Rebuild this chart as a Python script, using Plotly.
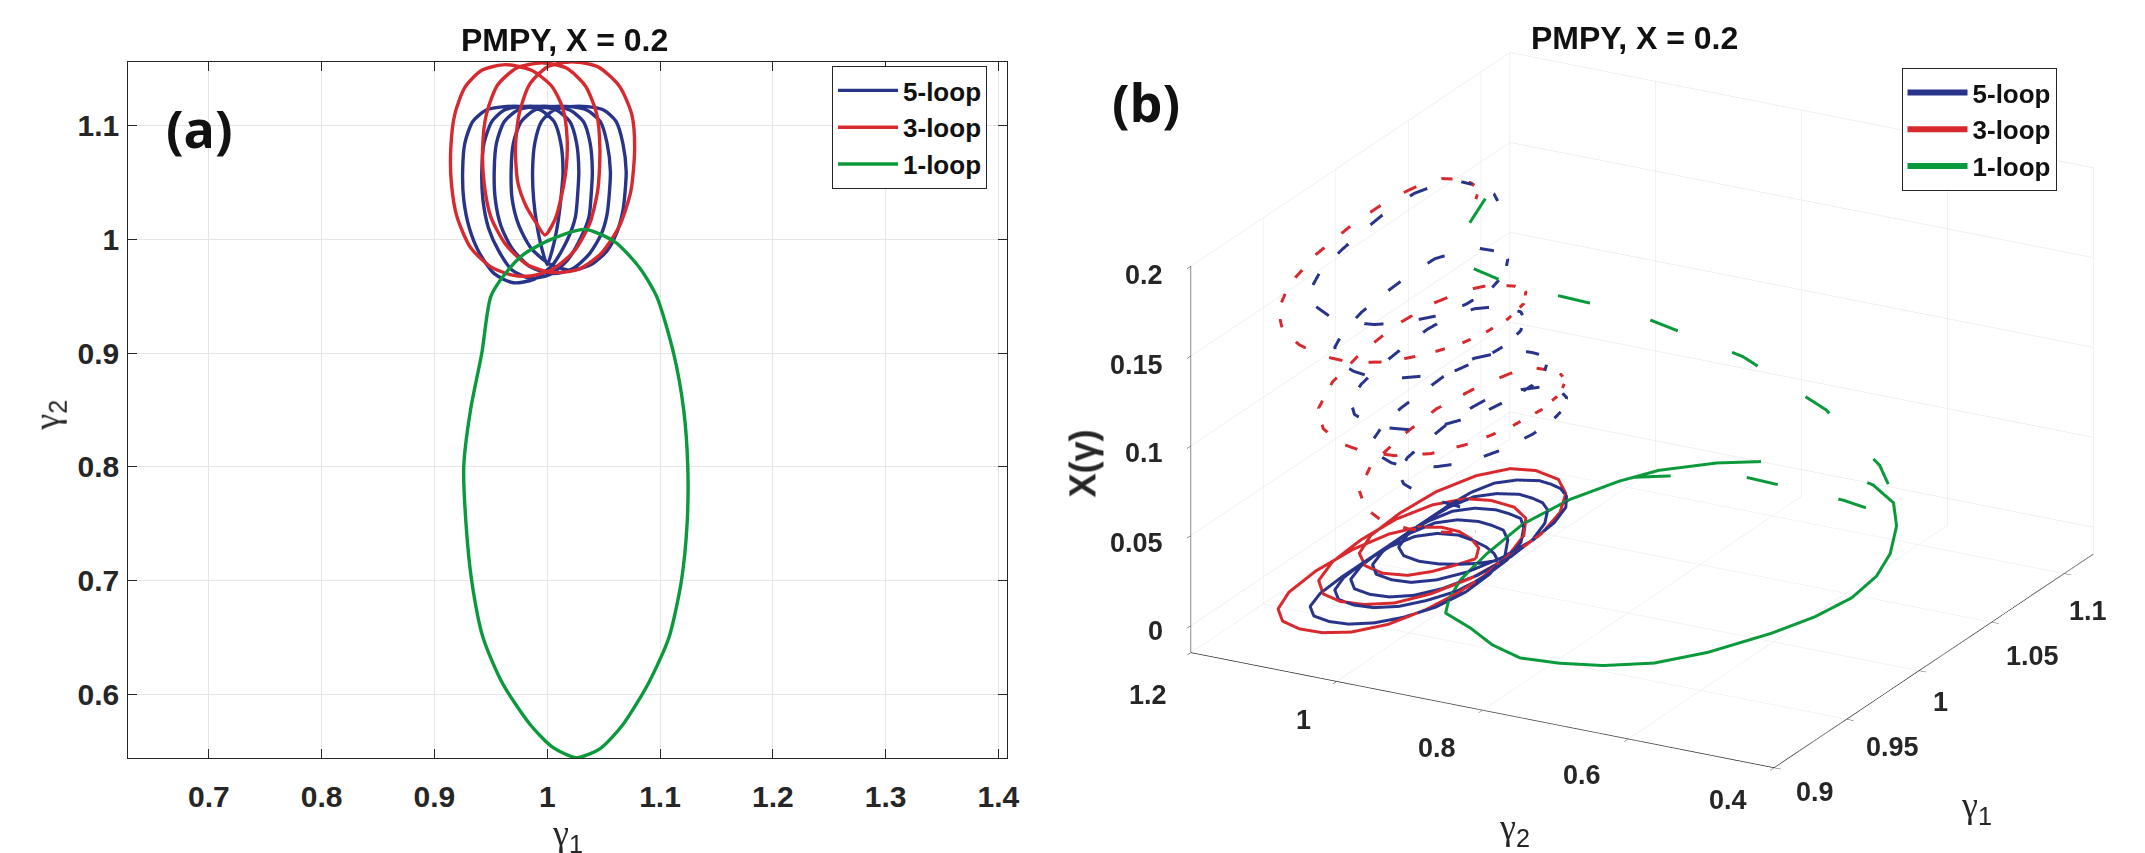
import plotly.graph_objects as go

# ---------------- data ----------------
# orbits in the (gamma1, gamma2) plane; X = X(gamma) along the orbit (panel b, dashed)

# 5-loop (blue), starts at the V near (1.0, 0.978)
loop5_g1 = [1.000, 1.005, 1.009, 1.012,
            1.014, 1.012, 1.006, 0.994, 0.980, 0.962, 0.946, 0.934, 0.927, 0.925,
            0.926, 0.931, 0.940, 0.953, 0.970, 0.988, 1.005, 1.018, 1.025, 1.027,
            1.028, 1.026, 1.020, 1.008, 0.994, 0.976, 0.962, 0.951, 0.944, 0.942,
            0.943, 0.948, 0.957, 0.969, 0.985, 1.002, 1.018, 1.030, 1.037, 1.039,
            1.040, 1.038, 1.032, 1.020, 1.006, 0.988, 0.974, 0.962, 0.955, 0.953,
            0.954, 0.959, 0.969, 0.985, 1.005, 1.022, 1.037, 1.048, 1.053, 1.055,
            1.056, 1.053, 1.047, 1.035, 1.021, 1.003, 0.989, 0.977, 0.970, 0.968,
            0.969, 0.975, 0.986, 1.003, 1.022, 1.039, 1.053, 1.062, 1.067, 1.069,
            1.070, 1.067, 1.061, 1.050, 1.036, 1.020, 1.006, 0.995, 0.989, 0.987,
            0.988, 0.991, 0.995, 1.000]
loop5_g2 = [0.978, 0.993, 1.012, 1.035,
            1.060, 1.085, 1.104, 1.114, 1.117, 1.117, 1.114, 1.104, 1.085, 1.060,
            1.035, 1.010, 0.988, 0.970, 0.962, 0.965, 0.978, 1.000, 1.020, 1.040,
            1.060, 1.085, 1.104, 1.114, 1.117, 1.117, 1.114, 1.104, 1.085, 1.060,
            1.035, 1.010, 0.990, 0.973, 0.966, 0.969, 0.982, 1.002, 1.020, 1.040,
            1.060, 1.085, 1.104, 1.114, 1.117, 1.117, 1.114, 1.104, 1.085, 1.060,
            1.035, 1.012, 0.992, 0.976, 0.970, 0.974, 0.987, 1.005, 1.022, 1.040,
            1.060, 1.085, 1.104, 1.114, 1.117, 1.117, 1.114, 1.104, 1.085, 1.060,
            1.035, 1.012, 0.992, 0.978, 0.973, 0.978, 0.990, 1.007, 1.025, 1.042,
            1.060, 1.085, 1.104, 1.114, 1.117, 1.117, 1.114, 1.104, 1.085, 1.060,
            1.035, 1.012, 0.993, 0.978]
loop5_x = [0.200, 0.200, 0.199, 0.198,
           0.197, 0.194, 0.191, 0.188, 0.185, 0.182, 0.179, 0.176, 0.173, 0.170,
           0.168, 0.166, 0.164, 0.162, 0.160, 0.158, 0.157, 0.156, 0.154, 0.153,
           0.152, 0.149, 0.147, 0.144, 0.142, 0.140, 0.137, 0.135, 0.132, 0.130,
           0.128, 0.127, 0.125, 0.123, 0.122, 0.120, 0.118, 0.117, 0.115, 0.114,
           0.113, 0.111, 0.109, 0.107, 0.105, 0.103, 0.101, 0.099, 0.097, 0.095,
           0.094, 0.092, 0.091, 0.089, 0.088, 0.086, 0.085, 0.083, 0.082, 0.081,
           0.080, 0.078, 0.077, 0.075, 0.073, 0.072, 0.070, 0.069, 0.067, 0.065,
           0.064, 0.063, 0.061, 0.060, 0.059, 0.058, 0.056, 0.055, 0.054, 0.053,
           0.052, 0.050, 0.049, 0.047, 0.046, 0.044, 0.043, 0.041, 0.040, 0.038,
           0.035, 0.032, 0.030, 0.028]

# 3-loop (red), starts at the V near (0.998, 1.004)
loop3_g1 = [0.998, 1.007, 1.013, 1.017,
            1.0176, 1.014, 1.004, 0.986, 0.963, 0.942, 0.927, 0.918, 0.9145, 0.915,
            0.920, 0.932, 0.950, 0.968, 0.985, 1.005, 1.024, 1.038, 1.045,
            1.0467, 1.044, 1.034, 1.017, 0.995, 0.973, 0.956, 0.946, 0.9427, 0.944,
            0.950, 0.963, 0.982, 1.005, 1.028, 1.048, 1.064, 1.074,
            1.0775, 1.075, 1.064, 1.045, 1.022, 1.000, 0.984, 0.975, 0.9718, 0.974,
            0.981, 0.990, 0.998]
loop3_g2 = [1.004, 1.018, 1.040, 1.065,
            1.090, 1.115, 1.135, 1.149, 1.154, 1.149, 1.134, 1.110, 1.080, 1.050,
            1.020, 0.993, 0.976, 0.969, 0.968, 0.974, 0.990, 1.015, 1.045,
            1.080, 1.110, 1.135, 1.151, 1.1555, 1.151, 1.136, 1.110, 1.080, 1.050,
            1.020, 0.996, 0.978, 0.971, 0.974, 0.988, 1.012, 1.042,
            1.080, 1.110, 1.135, 1.152, 1.1565, 1.152, 1.136, 1.110, 1.080, 1.050,
            1.030, 1.015, 1.004]
loop3_x = [0.200, 0.199, 0.198, 0.196,
           0.194, 0.190, 0.186, 0.181, 0.176, 0.171, 0.166, 0.162, 0.158, 0.154,
           0.150, 0.146, 0.142, 0.138, 0.135, 0.132, 0.129, 0.126, 0.123,
           0.120, 0.116, 0.112, 0.108, 0.104, 0.100, 0.096, 0.092, 0.088, 0.085,
           0.082, 0.078, 0.075, 0.072, 0.069, 0.066, 0.063, 0.060,
           0.057, 0.053, 0.049, 0.046, 0.042, 0.039, 0.035, 0.032, 0.029, 0.026,
           0.022, 0.018, 0.015]

# 1-loop (green), closed orbit
loop1_g1 = [1.033, 1.003, 0.979, 0.962, 0.950, 0.942, 0.932, 0.926, 0.928, 0.933,
            0.943, 0.960, 0.985, 1.005, 1.026, 1.047, 1.067, 1.090, 1.108, 1.119,
            1.124, 1.1246, 1.121, 1.112, 1.097, 1.082, 1.060, 1.033]
loop1_g2 = [1.009, 1.000, 0.987, 0.969, 0.950, 0.900, 0.850, 0.800, 0.750, 0.700,
            0.650, 0.610, 0.573, 0.553, 0.544, 0.552, 0.573, 0.610, 0.650, 0.700,
            0.750, 0.800, 0.850, 0.900, 0.950, 0.975, 0.998, 1.009]
# 1-loop path with X(gamma) (dashed in panel b)
loop1_dash_g1 = [1.000, 0.971, 0.972, 0.990, 1.032, 1.072, 1.100, 1.107, 1.094,
                 1.089, 1.095, 1.098, 1.101, 1.095, 1.086, 1.056]
loop1_dash_g2 = [0.995, 0.980, 0.963, 0.940, 0.855, 0.785, 0.727, 0.667, 0.615,
                 0.625, 0.692, 0.760, 0.843, 0.905, 0.963, 1.000]
loop1_dash_x = [0.200, 0.190, 0.180, 0.162, 0.130, 0.090, 0.050, 0.020, 0.008,
                0.006, 0.005, 0.004, 0.003, 0.002, 0.001, 0.000]

names = ["5-loop", "3-loop", "1-loop"]
colors = ["#28348a", "#d8292f", "#0a9a3b"]

xticks_a = [0.7, 0.8, 0.9, 1.0, 1.1, 1.2, 1.3, 1.4]
yticks_a = [0.6, 0.7, 0.8, 0.9, 1.0, 1.1]
g1_ticks_b = [0.9, 0.95, 1.0, 1.05, 1.1]
g2_ticks_b = [0.4, 0.6, 0.8, 1.0, 1.2]
x_ticks_b = [0, 0.05, 0.1, 0.15, 0.2]

W, H = 2145, 853
AX = "#262626"
TICKFONT = dict(family="Liberation Sans", size=30, color=AX, weight="bold")

fig = go.Figure()

g1_all = [loop5_g1, loop3_g1, loop1_g1]
g2_all = [loop5_g2, loop3_g2, loop1_g2]

# panel (a)
for name, col, g1, g2 in zip(names, colors, g1_all, g2_all):
    fig.add_trace(go.Scatter(
        x=g1, y=g2, mode="lines", name=name, legend="legend",
        line=dict(color=col, width=3.4, shape="spline", smoothing=0.7),
        hoverinfo="skip"))

# panel (b): orbit on the floor (solid) and with X(gamma) (dashed)
for name, col, g1, g2 in zip(names, colors, g1_all, g2_all):
    fig.add_trace(go.Scatter3d(
        x=g1, y=g2, z=[0] * len(g1), mode="lines", name=name,
        legend="legend2", scene="scene",
        line=dict(color=col, width=6), hoverinfo="skip"))

dash_sets = [(loop5_g1, loop5_g2, loop5_x, "dash"),
             (loop3_g1, loop3_g2, loop3_x, "dash"),
             (loop1_dash_g1, loop1_dash_g2, loop1_dash_x, "longdash")]
for col, (g1, g2, xv, dsh) in zip(colors, dash_sets):
    fig.add_trace(go.Scatter3d(
        x=g1, y=g2, z=xv, mode="lines", showlegend=False, scene="scene",
        line=dict(color=col, width=6, dash=dsh), hoverinfo="skip"))


def fmt(v):
    return ("%g" % v)


axis3d = dict(showbackground=False, gridcolor="#e2e2e2", gridwidth=1,
              showline=True, linecolor=AX, linewidth=1.5,
              ticks="outside", tickcolor=AX, ticklen=8,
              zeroline=False, showspikes=False, showticklabels=False,
              title=dict(text=""))

legend_style = dict(font=dict(family="Liberation Sans", size=26, color="#111",
                              weight="bold"),
                    bgcolor="white", bordercolor=AX, borderwidth=1,
                    itemwidth=60, tracegroupgap=0, yanchor="top",
                    xanchor="right")


def gam(i):
    return ("<span style='font-family:Liberation Serif'>γ</span>"
            "<sub>%d</sub>" % i)


fig.update_layout(
    width=W, height=H,
    margin=dict(l=0, r=0, t=0, b=0),
    paper_bgcolor="white", plot_bgcolor="white",
    xaxis=dict(domain=[121 / W, 1005 / W], range=[0.6286, 1.4075],
               tickvals=xticks_a, ticktext=[fmt(v) for v in xticks_a],
               ticks="inside", ticklen=9, tickcolor=AX,
               showline=True, linecolor=AX, linewidth=1, mirror="ticks",
               showgrid=True, gridcolor="#e6e6e6", zeroline=False,
               tickfont=TICKFONT, ticklabelstandoff=12),
    yaxis=dict(domain=[1 - 750 / H, 1 - 54 / H], range=[0.5437, 1.1563],
               tickvals=yticks_a, ticktext=[fmt(v) for v in yticks_a],
               ticks="inside", ticklen=9, tickcolor=AX,
               showline=True, linecolor=AX, linewidth=1, mirror="ticks",
               showgrid=True, gridcolor="#e6e6e6", zeroline=False,
               tickfont=TICKFONT, ticklabelstandoff=2),
    scene=dict(
        domain=dict(x=[1144 / W, 2144 / W], y=[1 - 824 / H, 1 - 1 / H]),
        xaxis=dict(axis3d, range=[0.9, 1.12], tickvals=g1_ticks_b),
        yaxis=dict(axis3d, range=[0.4, 1.2], tickvals=g2_ticks_b),
        zaxis=dict(axis3d, range=[-0.015, 0.2], tickvals=x_ticks_b),
        aspectmode="manual", aspectratio=dict(x=1.625, y=1.613, z=1.008),
        camera=dict(eye=dict(x=-1.646, y=-0.894, z=0.704),
                    up=dict(x=0, y=0, z=1), center=dict(x=0, y=0, z=-0.027),
                    projection=dict(type="orthographic")),
    ),
    legend=dict(legend_style, x=985 / W, y=1 - 58 / H),
    legend2=dict(legend_style, x=2061 / W, y=1 - 60 / H),
    showlegend=True,
)

title_font = dict(family="Liberation Sans", size=32, color="#111", weight="bold")
label_font = dict(family="Liberation Sans", size=36, color=AX)
panel_font = dict(family="Open Sans", size=52, color="#111", weight="bold")
tick3d_font = dict(family="Liberation Sans", size=27, color=AX, weight="bold")

annotations = [
    dict(text="PMPY, X = 0.2", x=560 / W, y=1 - 32 / H, font=title_font),
    dict(text="PMPY, X = 0.2", x=1636 / W, y=1 - 30 / H, font=title_font),
    dict(text="(a)", x=193 / W, y=1 - 120 / H, font=panel_font),
    dict(text="(b)", x=1145 / W, y=1 - 94 / H, font=panel_font),
    dict(text=gam(1), x=563 / W, y=1 - 827 / H, font=label_font),
    dict(text=gam(2), x=41 / W, y=1 - 407 / H, font=label_font, textangle=-90),
    dict(text=gam(1), x=1981 / W, y=1 - 799 / H, font=label_font),
    dict(text=gam(2), x=1516 / W, y=1 - 821 / H, font=label_font),
    dict(text="<b>X(γ)</b>", x=1081 / W, y=1 - 455 / H, font=label_font,
         textangle=-90),
]

# tick labels of the 3-D box, placed beside the axis edges (screen positions)
z_label_pos = [623, 535, 445, 357, 267]
g2_label_pos = [(1730, 792), (1584, 767), (1438, 740), (1303, 712), (1147, 687)]
g1_label_pos = [(1818, 784), (1896, 739), (1944, 694), (2037, 648), (2093, 603)]
for v, yy in zip(x_ticks_b, z_label_pos):
    annotations.append(dict(text=fmt(v), x=1164 / W, y=1 - yy / H,
                            xanchor="right", font=tick3d_font))
for v, (xx, yy) in zip(g2_ticks_b, g2_label_pos):
    annotations.append(dict(text=fmt(v), x=xx / W, y=1 - yy / H,
                            font=tick3d_font))
for v, (xx, yy) in zip(g1_ticks_b, g1_label_pos):
    annotations.append(dict(text=fmt(v), x=xx / W, y=1 - yy / H,
                            font=tick3d_font))

for a in annotations:
    a.setdefault("xanchor", "center")
    fig.add_annotation(xref="paper", yref="paper", showarrow=False,
                       yanchor="middle", **a)

fig.write_html("out.html")
